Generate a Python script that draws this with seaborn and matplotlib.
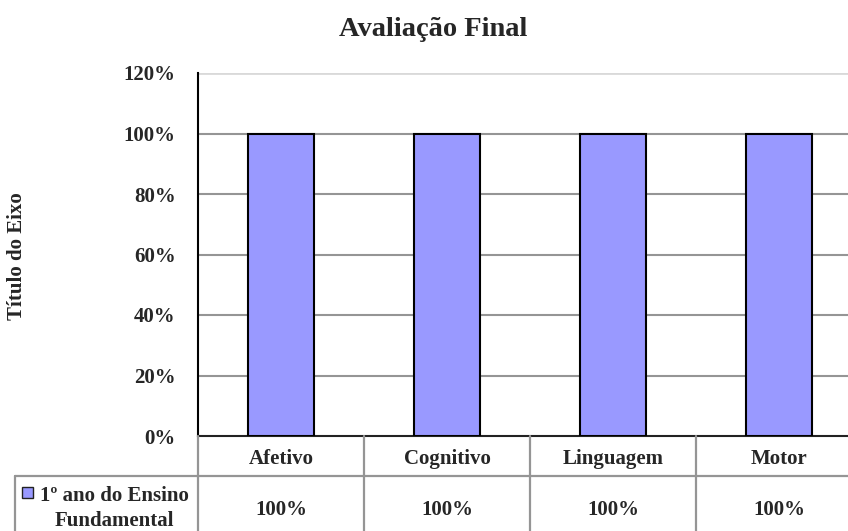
import matplotlib
matplotlib.use("Agg")
import matplotlib.pyplot as plt
import matplotlib.transforms as mtransforms
from matplotlib.patches import Rectangle
import seaborn as sns
import pandas as pd

categories = ["Afetivo", "Cognitivo", "Linguagem", "Motor"]
values = [1.0, 1.0, 1.0, 1.0]
series_name = "1º ano do Ensino\nFundamental"
yticks = [0, 0.2, 0.4, 0.6, 0.8, 1.0, 1.2]
title = "Avaliação Final"
ylabel = "Título do Eixo"

sns.set_style("white")
plt.rcParams['font.family'] = ['Liberation Serif', 'DejaVu Serif']
plt.rcParams['font.weight'] = 'bold'

W, H = 848, 531
fig = plt.figure(figsize=(W / 100, H / 100), dpi=100)

def fx(x):
    return x / W

def fy(y):
    return 1 - y / H

left, right, top, bottom = 198, 862, 73, 436
ax = fig.add_axes([fx(left), fy(bottom), (right - left) / W, (bottom - top) / H])

df = pd.DataFrame({"cat": categories, "val": values})
bar_color = "#9999FF"
sns.barplot(data=df, x="cat", y="val", color=bar_color, edgecolor="black",
            linewidth=1.5, width=0.4, saturation=1, ax=ax, zorder=3)

ax.set_xlim(-0.5, len(categories) - 0.5)
ax.set_ylim(0, 1.2)
ax.set_yticks(yticks)
ax.set_yticklabels([f"{int(round(t * 100))}%" for t in yticks], fontsize=15, fontweight='bold')
ax.tick_params(axis='y', length=0, pad=16)
ax.set_xticks([])
ax.set_xlabel("")
ax.set_ylabel("")
for t in yticks[1:-1]:
    ax.axhline(t, color="#959595", lw=1.5, zorder=1)
ax.axhline(1.2, color="#d9d9d9", lw=2, zorder=1)
ax.spines['left'].set_color('black')
ax.spines['left'].set_linewidth(1.5)
ax.spines['bottom'].set_color('#222222')
ax.spines['bottom'].set_linewidth(1.5)
ax.spines['top'].set_visible(False)
ax.spines['right'].set_visible(False)

fig.text(fx(433), fy(29), title, ha='center', va='center', fontsize=20.5, fontweight='bold')
fig.text(fx(17), fy(256), ylabel, ha='center', va='center', rotation=90, fontsize=15, fontweight='bold')

# data table below the axes
blend = mtransforms.blended_transform_factory(ax.transData, fig.transFigure)
grid_c = "#959595"
row1_top, row2_top, row2_bot = 436, 476, 531
for i in range(len(categories)):
    xl = i - 0.5
    fig.add_artist(plt.Line2D([xl, xl], [fy(row1_top), fy(row2_bot)], transform=blend,
                              color=grid_c, lw=1.6))
fig.add_artist(plt.Line2D([fx(15), 1], [fy(row2_top), fy(row2_top)], transform=fig.transFigure,
                          color=grid_c, lw=1.6))
fig.add_artist(plt.Line2D([fx(15), fx(15)], [fy(row2_top), fy(row2_bot)], transform=fig.transFigure,
                          color=grid_c, lw=1.6))

for i, (c, v) in enumerate(zip(categories, values)):
    fig.text(i, fy(459), c, transform=blend, ha='center', va='center', fontsize=15, fontweight='bold')
    fig.text(i, fy(510), f"{int(round(v * 100))}%", transform=blend, ha='center', va='center',
             fontsize=15, fontweight='bold')

name_lines = series_name.split("\n")
line_y = [496, 521]
for ln, yy in zip(name_lines, line_y):
    fig.text(fx(114), fy(yy), ln, ha='center', va='center', fontsize=15, fontweight='bold')
fig.add_artist(Rectangle((fx(22), fy(498)), 11 / W, 11 / H, transform=fig.transFigure,
                         facecolor=bar_color, edgecolor='#222222', lw=1))

fig.savefig("out.png", dpi=100)
